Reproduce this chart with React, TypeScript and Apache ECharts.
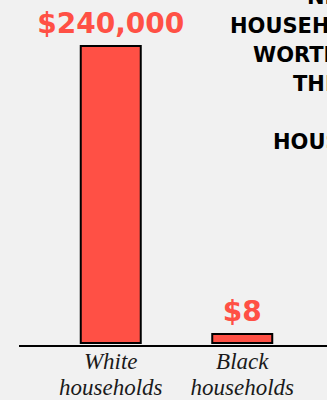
import React, { useEffect, useRef } from "react";
import * as echarts from "echarts";

const categories = ["White\nhouseholds", "Black\nhouseholds"];
const netWorth = [240000, 8];
const valueLabels = ["$240,000", "$8"];
const titleLines = ["NET", "HOUSEHOLD", "WORTH", "THE", "HOUSEHOLDS"];

const RED = "#FF5045";
const BG = "#F1F1F1";

export default function App() {
  const ref = useRef<HTMLDivElement>(null);
  useEffect(() => {
    if (!ref.current) return;
    const chart = echarts.init(ref.current, null, { renderer: "svg" });
    const titleX = [307, 230, 253, 293, 273];
    const titleY = [-3, 26, 55, 84, 142];
    chart.setOption({
      animation: false,
      backgroundColor: BG,
      grid: { left: 45, right: 19, top: 45, bottom: 54, containLabel: false },
      xAxis: {
        type: "category",
        data: categories,
        axisLine: { show: false },
        axisTick: { show: false },
        axisLabel: {
          color: "#1a1a1a",
          fontFamily: "Liberation Serif",
          fontStyle: "italic",
          fontSize: 23,
          lineHeight: 26,
          margin: 4,
          interval: 0,
        },
      },
      yAxis: {
        type: "value",
        min: 0,
        max: 240000,
        show: false,
        splitLine: { show: false },
      },
      series: [
        {
          type: "bar",
          data: netWorth,
          barWidth: 62,
          barMinHeight: 11,
          itemStyle: { color: RED, borderColor: "#000", borderWidth: 2 },
          label: {
            show: true,
            position: "top",
            distance: 8,
            color: RED,
            fontFamily: "DejaVu Sans",
            fontWeight: "bold",
            fontSize: 28,
            formatter: (p: any) => valueLabels[p.dataIndex],
          },
        },
      ],
      graphic: [
        {
          type: "line",
          shape: { x1: 19, y1: 346, x2: 327, y2: 346 },
          style: { stroke: "#000", lineWidth: 2 },
          z: 10,
        },
        ...titleLines.map((t, i) => ({
          type: "text",
          x: titleX[i],
          y: titleY[i],
          style: {
            text: t,
            fill: "#000",
            font: "bold 21px 'DejaVu Sans'",
            textAlign: "left",
            textVerticalAlign: "middle",
          },
        })),
      ],
    });
    return () => chart.dispose();
  }, []);
  return (
    <div
      ref={ref}
      style={{ position: "fixed", left: 0, top: 0, width: 327, height: 400, background: BG }}
    />
  );
}
